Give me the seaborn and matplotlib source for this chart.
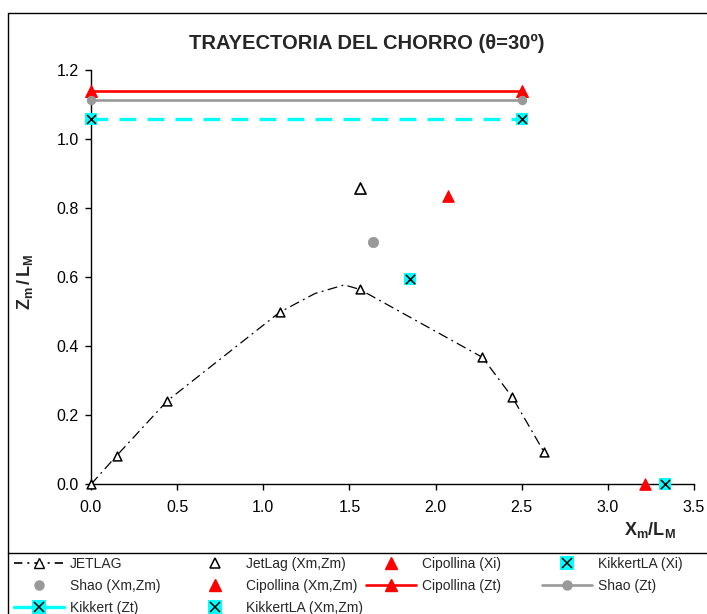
import matplotlib
matplotlib.use("Agg")
import matplotlib.pyplot as plt
import seaborn as sns
import numpy as np
from matplotlib.lines import Line2D
from matplotlib.legend_handler import HandlerTuple

# Data
jet_x = [0.0, 0.149, 0.443, 1.096, 1.30, 1.47, 1.56, 2.272, 2.446, 2.630]
jet_y = [0.0, 0.083, 0.242, 0.499, 0.553, 0.578, 0.565, 0.368, 0.252, 0.093]
jet_marked = [0, 1, 2, 3, 6, 7, 8, 9]

jetlag_xm = [1.563]
jetlag_zm = [0.858]
shao_xm = [1.634]
shao_zm = [0.702]
cipollina_xm = [2.072]
cipollina_zm = [0.837]
kikkertla_xm = [1.854]
kikkertla_zm = [0.594]

cipollina_xi = [3.213]
kikkertla_xi = [3.333]

zt_x = [0.0, 2.5]
cipollina_zt = 1.141
shao_zt = 1.115
kikkert_zt = 1.058

RED = "#ff0000"
GRAY = "#999999"
CYAN = "#00ffff"

sns.set_style("ticks")
plt.rcParams["font.family"] = ["Liberation Sans", "DejaVu Sans"]
plt.rcParams["mathtext.fontset"] = "custom"
plt.rcParams["mathtext.bf"] = "Liberation Sans:bold"
plt.rcParams["mathtext.rm"] = "Liberation Sans"

W, H = 707, 614
fig = plt.figure(figsize=(W / 100, H / 100), dpi=100)
ax = fig.add_axes([91 / W, 1 - 484.3 / H, (694 - 91) / W, (484.3 - 70.3) / H])

# JETLAG trajectory
sns.lineplot(x=jet_x, y=jet_y, sort=False, estimator=None, color="black",
             lw=0.9, linestyle=(0, (8, 3.5, 1.5, 3.5)), ax=ax, zorder=3)
sns.scatterplot(x=[jet_x[i] for i in jet_marked], y=[jet_y[i] for i in jet_marked],
                marker="^", s=40, color="white", edgecolor="black", linewidth=1.1,
                ax=ax, zorder=4, clip_on=False)

# horizontal Zt lines
sns.lineplot(x=zt_x, y=[cipollina_zt] * 2, color=RED, lw=1.9, marker="^",
             markersize=8, markeredgecolor=RED, ax=ax, zorder=3, clip_on=False)
sns.lineplot(x=zt_x, y=[shao_zt] * 2, color=GRAY, lw=1.9, marker="o",
             markersize=6, markeredgecolor=GRAY, ax=ax, zorder=3, clip_on=False)
sns.lineplot(x=zt_x, y=[kikkert_zt] * 2, color=CYAN, lw=2.4,
             linestyle=(0, (5.0, 3.4)), ax=ax, zorder=3, clip_on=False)
sns.scatterplot(x=zt_x, y=[kikkert_zt] * 2, marker="s", s=64, color=CYAN,
                edgecolor=CYAN, linewidth=0, ax=ax, zorder=4, clip_on=False)
sns.scatterplot(x=zt_x, y=[kikkert_zt] * 2, marker="x", s=40, color="black",
                linewidth=1.1, ax=ax, zorder=5, clip_on=False)

# single points
sns.scatterplot(x=jetlag_xm, y=jetlag_zm, marker="^", s=64, color="white",
                edgecolor="black", linewidth=1.2, ax=ax, zorder=4)
sns.scatterplot(x=shao_xm, y=shao_zm, marker="o", s=55, color=GRAY,
                edgecolor=GRAY, ax=ax, zorder=4)
sns.scatterplot(x=cipollina_xm, y=cipollina_zm, marker="^", s=70, color=RED,
                edgecolor=RED, ax=ax, zorder=4)
sns.scatterplot(x=cipollina_xi, y=[0.0], marker="^", s=70, color=RED,
                edgecolor=RED, ax=ax, zorder=4, clip_on=False)
for kx, ky in [(kikkertla_xm, kikkertla_zm), (kikkertla_xi, [0.0])]:
    sns.scatterplot(x=kx, y=ky, marker="s", s=80, color=CYAN, edgecolor=CYAN,
                    linewidth=0, ax=ax, zorder=4, clip_on=False)
    sns.scatterplot(x=kx, y=ky, marker="x", s=45, color="black", linewidth=1.1,
                    ax=ax, zorder=5, clip_on=False)

ax.set_xlim(0, 3.5)
ax.set_ylim(0, 1.2)
ax.set_xticks(np.arange(0, 3.51, 0.5))
ax.set_yticks(np.arange(0, 1.21, 0.2))
ax.set_xticklabels([f"{v:.1f}" for v in np.arange(0, 3.51, 0.5)])
ax.set_yticklabels([f"{v:.1f}" for v in np.arange(0, 1.21, 0.2)])
ax.tick_params(axis="both", labelsize=11.5, length=4, width=1, colors="black",
               direction="out")
ax.tick_params(axis="y", pad=5)
ax.tick_params(axis="x", pad=7)
sns.despine(ax=ax)
for sp in ["left", "bottom"]:
    ax.spines[sp].set_linewidth(1)
    ax.spines[sp].set_color("black")
ax.set_xlabel("")
ax.set_ylabel("")

fig.text(367 / W, 1 - 43 / H, "TRAYECTORIA DEL CHORRO (θ=30º)", ha="center",
         va="center", fontsize=14.5, fontweight="bold")
fig.text(650 / W, 1 - 530 / H, r"$\mathbf{X_m/L_M}$", ha="center", va="center",
         fontsize=13)
fig.text(25 / W, 1 - 282 / H, r"$\mathbf{Z_m\,/\,L_M}$", ha="center",
         va="center", rotation=90, fontsize=13)

# chart frame and legend separator
fig.add_artist(Line2D([8 / W, 8 / W], [1 - 13 / H, 0], transform=fig.transFigure,
                      color="black", lw=1))
fig.add_artist(Line2D([8 / W, 1], [1 - 13 / H, 1 - 13 / H],
                      transform=fig.transFigure, color="black", lw=1))
fig.add_artist(Line2D([8 / W, 1], [1 - 553 / H, 1 - 553 / H],
                      transform=fig.transFigure, color="black", lw=1))

# legend handles
h_jet = Line2D([], [], color="black", lw=1.2, linestyle=(0, (5, 3, 1.2, 3)),
               marker="^", markersize=7, markerfacecolor="white",
               markeredgecolor="black")
h_jetpt = Line2D([], [], ls="none", marker="^", markersize=7.5,
                 markerfacecolor="white", markeredgecolor="black", mew=1.1)
h_cipxi = Line2D([], [], ls="none", marker="^", markersize=9, color=RED)
h_kla = (Line2D([], [], ls="none", marker="s", markersize=10, color=CYAN, mew=0),
         Line2D([], [], ls="none", marker="x", markersize=7, color="black", mew=1.1))
h_shaopt = Line2D([], [], ls="none", marker="o", markersize=6.5, color=GRAY)
h_cippt = Line2D([], [], ls="none", marker="^", markersize=9, color=RED)
h_cipzt = Line2D([], [], color=RED, lw=1.9, marker="^", markersize=9)
h_shaozt = Line2D([], [], color=GRAY, lw=1.9, marker="o", markersize=6.5)
h_kikzt = (Line2D([], [], color=CYAN, lw=2.4, marker="s", markersize=10, mew=0),
           Line2D([], [], ls="none", marker="x", markersize=7, color="black", mew=1.1))

columns = [
    ([h_jet, h_shaopt, h_kikzt], ["JETLAG", "Shao (Xm,Zm)", "Kikkert (Zt)"], 14),
    ([h_jetpt, h_cippt, h_kla], ["JetLag (Xm,Zm)", "Cipollina (Xm,Zm)",
                                 "KikkertLA (Xm,Zm)"], 190),
    ([h_cipxi, h_cipzt], ["Cipollina (Xi)", "Cipollina (Zt)"], 366),
    ([h_kla, h_shaozt], ["KikkertLA (Xi)", "Shao (Zt)"], 542),
]
for handles, labels, x0 in columns:
    fig.legend(handles, labels, loc="upper left",
               bbox_to_anchor=(x0 / W, 1 - 557 / H), frameon=False,
               fontsize=10, handlelength=3.6, handletextpad=0.4,
               borderpad=0, borderaxespad=0, labelspacing=0.56,
               handler_map={tuple: HandlerTuple(ndivide=1, pad=0)})

fig.savefig("out.png", dpi=100)
